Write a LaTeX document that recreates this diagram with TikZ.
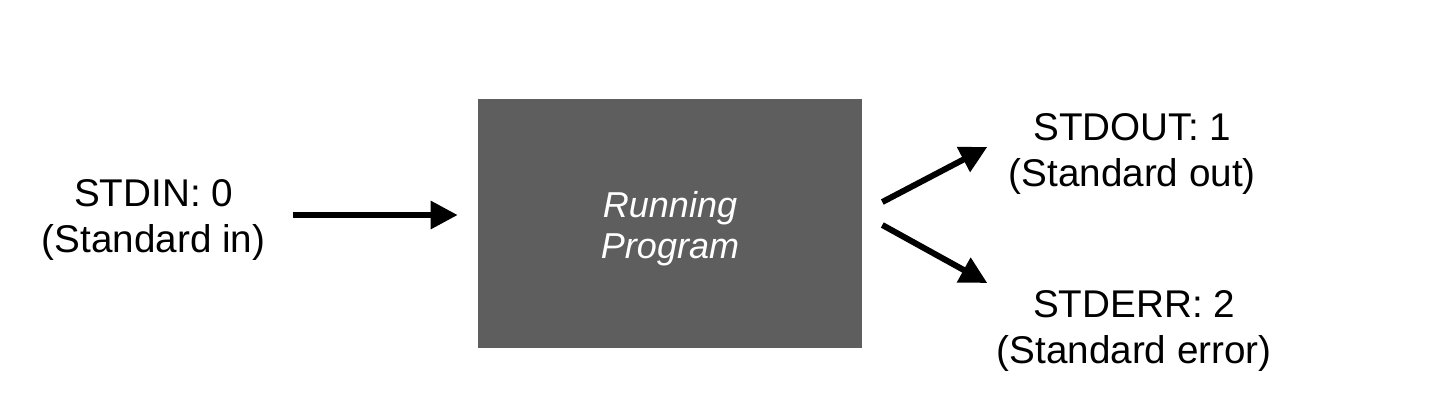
\documentclass[tikz,border=0pt]{standalone}
\usepackage{fontspec}
\setmainfont{Liberation Sans}
\usetikzlibrary{arrows.meta, positioning}

\begin{document}
\begin{tikzpicture}[
  x=0.02cm, y=-0.02cm,
  font=\fontsize{22}{26}\selectfont,
  prog/.style={fill=black!63, minimum width=7.68cm, minimum height=4.98cm, align=center, text=white,
    font=\fontsize{20.5}{23.5}\selectfont\itshape},
  stream/.style={align=center, inner sep=0pt},
  ar/.style={-{Triangle[length=0.54cm, width=0.54cm]}, line width=0.12cm}
]
\useasboundingbox (0,0) rectangle (1435,414);
\node[prog] (prog) at (670,223.5) {};
\node[align=center, text=white, font=\fontsize{20.5}{23.5}\selectfont\itshape, inner sep=0pt]
  (progtext) at ([yshift=-0.1cm]prog.center) {Running\\Program};
\node[stream, left=4.24cm of prog.west, yshift=0.07cm] (stdin) {STDIN: 0\\(Standard in)};
\node[stream, right=2.92cm of prog.east, yshift=1.39cm] (stdout) {STDOUT: 1\\(Standard out)};
\node[stream, right=2.68cm of prog.east, yshift=-2.15cm] (stderr) {STDERR: 2\\(Standard error)};
\draw[ar, shorten <=0.54cm, shorten >=0.4cm] ([yshift=0.1cm]stdin.east) -- ([yshift=0.1cm]stdin.east -| prog.west);
\draw[ar] ([xshift=0.4cm, yshift=0.43cm]prog.east) -- ([xshift=-0.42cm, yshift=0.14cm]stdout.west);
\draw[ar] ([xshift=0.4cm, yshift=-0.03cm]prog.east) -- ([xshift=-0.18cm, yshift=0.96cm]stderr.west);
\end{tikzpicture}
\end{document}
